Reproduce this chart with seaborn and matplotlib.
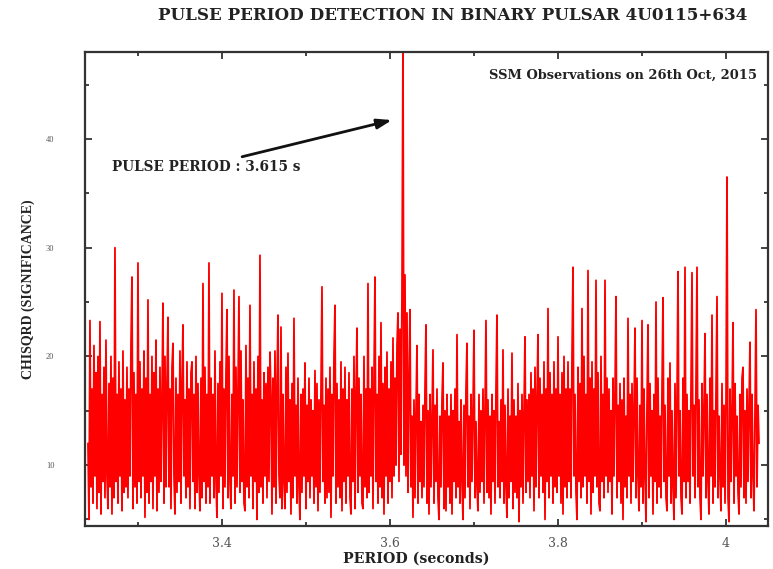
import numpy as np
import pandas as pd
import matplotlib
matplotlib.use("Agg")
import matplotlib.pyplot as plt
from matplotlib.ticker import MultipleLocator, FixedLocator
import seaborn as sns

# ---- data (trial period grid and chi-square values) ----
period_start = 3.2405
period_step = 0.0011905
chisq_values = [
    # 3.240 - 3.287
    12, 5, 23.3, 8, 17, 6.5, 21, 9, 18.5, 6, 20, 7.5, 23.2, 5.5, 16.5, 8.5, 19, 7, 21.5, 9,
    6, 17.5, 8, 20, 5.5, 18, 7, 30.0, 8.5, 16.5, 6.5, 19.5, 9, 17, 5.8, 20.5, 7.5, 16, 8, 19,
    # 3.288 - 3.335
    7, 17, 9, 21, 27.3, 6, 18.5, 8, 16.5, 6.5, 28.6, 8.5, 19.5, 7, 17, 9, 20.5, 5.2, 18, 7.5,
    25.2, 6.5, 16.5, 8.5, 20, 6, 18.5, 9, 21.5, 5.8, 17, 7.5, 19, 8.5, 16, 24.9, 6.5, 20, 8, 17.5,
    # 3.336 - 3.383
    23.6, 8, 17, 6, 19, 21.2, 9, 5.5, 18, 7.5, 16.5, 8.5, 20.5, 6.5, 17.5, 22.9, 9, 16, 7, 19.5,
    8, 17, 6, 18.5, 19.5, 8.5, 16.5, 6, 20, 7.5, 17.5, 9, 5.8, 18, 7, 26.7, 8.5, 19, 6.5, 16.5,
    # 3.383 - 3.430
    8, 28.6, 6.5, 18, 9, 16.5, 7, 20.5, 8.5, 5.2, 17.5, 7.5, 19.5, 9, 25.8, 6, 17, 8, 18.5, 24.3,
    7, 20, 8.5, 6, 16.5, 9, 26.1, 6.5, 19, 8, 17, 25.5, 7.5, 20.5, 8.5, 16, 6.5, 5.8, 21, 8,
    # 3.431 - 3.478
    18, 7, 24.7, 9, 16.5, 6, 19.5, 8.5, 17, 5, 20, 7.5, 29.3, 8, 16, 6.5, 18.5, 9, 17.5, 7,
    19, 8.5, 20.4, 16.5, 5.5, 18, 8, 20.5, 6.5, 17, 23.8, 9, 7, 22.7, 6, 16.5, 8.5, 6, 19, 7.5,
    # 3.479 - 3.526
    20.3, 8.5, 16, 5.5, 17.5, 7, 23.5, 9, 15.5, 6.5, 18, 8, 5, 16.5, 7.5, 17, 9, 19.4, 6, 15.5,
    8.5, 18, 7, 16, 9, 15, 6.5, 18.7, 8, 17.5, 5.8, 16, 7.5, 17, 26.4, 8.5, 15.5, 6.5, 18, 7,
    # 3.526 - 3.573
    17, 7.5, 19, 5.2, 16.5, 9, 20, 24.7, 6.5, 17.5, 8, 16, 7, 19.5, 5.8, 17, 8.5, 19.0, 6.5, 16,
    9, 18.5, 7, 5.5, 17, 8.5, 20, 6, 16.5, 22.6, 7.5, 18, 9, 16.5, 6.5, 6, 20, 8, 17, 7,
    # 3.574 - 3.621 (pulse period peak)
    26.7, 7.5, 17, 9, 19, 6, 18, 27.3, 8.5, 16.5, 6.5, 20, 8, 23.1, 7, 17.5, 5.5, 19, 9, 20.4,
    6.5, 17, 8.5, 19.5, 7, 21.7, 9, 18, 10, 21, 24, 8.5, 22.5, 11, 26, 49.0, 10, 27.5, 9, 24,
    # 3.621 - 3.668
    7.5, 17.5, 24.3, 8, 14.5, 5.2, 16, 7, 15, 21.0, 6.5, 16.5, 8.5, 14, 7, 15.5, 8, 17, 22.9, 6.5,
    15, 5.5, 16.5, 8, 14, 20.6, 6.5, 15.5, 8.5, 17, 7, 5, 14.5, 8, 16, 19.4, 6, 15, 5.8, 16.5,
    # 3.669 - 3.716
    8, 14.5, 6.5, 16.5, 5.5, 15, 8.5, 17, 7, 22.0, 8, 14, 6.5, 16, 8.5, 5, 15.5, 7, 17, 21.2,
    8, 14.5, 6, 16.5, 8.5, 15, 22.4, 7, 14, 8, 5.8, 16.5, 7.5, 15, 8.5, 17, 6.5, 14.5, 23.3, 7.5,
    # 3.717 - 3.764
    16, 7, 14.5, 5.5, 16.5, 8.5, 15, 6.5, 17, 23.8, 8, 14, 7, 16, 8.5, 20.6, 6.5, 15.5, 8, 5.2,
    17, 7, 14.5, 8.5, 20.3, 6, 16, 7.5, 14.5, 7, 17.5, 4.8, 15, 8, 16.5, 6.5, 15, 21.8, 7.5, 16,
    # 3.764 - 3.811
    8.5, 16.5, 7, 18.5, 9, 17, 5.8, 19, 8, 16, 22.0, 7, 18, 9, 16.5, 7.5, 19.5, 5, 17, 8.5,
    24.4, 7, 18.5, 9, 16.5, 6.5, 19.5, 8, 17, 7.5, 21.8, 9, 16.5, 6.5, 18.5, 5.5, 20, 8, 17, 7,
    # 3.812 - 3.859
    19.5, 8.5, 17, 7, 20, 28.2, 9, 16.5, 7.5, 5, 19, 8.5, 17.5, 7, 24.4, 8, 20, 9, 16.5, 6.5,
    27.9, 8.5, 18, 5.5, 19.5, 7.5, 17, 9, 27.0, 8, 18.5, 6.5, 5.8, 20, 8.5, 16.5, 7, 27.0, 9, 18,
    # 3.860 - 3.907
    7.5, 17, 8.5, 15, 5.5, 18, 9, 16.5, 25.5, 7, 15.5, 8.5, 17.5, 6.5, 16, 5, 18, 8, 14.5, 7,
    23.5, 9, 16.5, 6.5, 17.5, 8.5, 15, 22.6, 7, 18, 9, 5.8, 15.5, 8, 23.3, 6.5, 17, 9, 4.8, 15.5,
    # 3.907 - 3.954
    22.9, 7, 17.5, 9, 15, 5.5, 16.5, 8.5, 25.0, 6.5, 18, 8, 14.5, 7, 17, 25.4, 8.5, 15.5, 7, 5.8,
    18, 9, 19.4, 6.5, 15, 8, 5, 17.5, 7, 16, 27.8, 9, 15, 7, 5.5, 18, 8.5, 28.2, 7, 16.5,
    # 3.955 - 4.001
    8.5, 15, 6.5, 17.5, 27.7, 9, 15.5, 7, 18, 28.2, 8, 16, 7, 5, 17.5, 9, 15, 22.1, 7, 16.5,
    8.5, 5.5, 18, 9, 23.8, 6.5, 15, 8, 17, 25.5, 7, 14.5, 9, 5.8, 17.5, 8, 15.5, 6.5, 16, 36.5,
    # 4.002 - 4.040
    7, 4.8, 17, 8.5, 15, 23.1, 6.5, 17.5, 9, 14.5, 7.5, 5.5, 16.5, 8, 18, 19.0, 7, 15, 6.5, 17,
    8.5, 15.5, 21.3, 7, 16.5, 9, 5.8, 15, 24.3, 8, 15.5, 12,
]
x_ticks = [3.4, 3.6, 3.8, 4.0]
x_tick_labels = ["3.4", "3.6", "3.8", "4"]
y_ticks = [10, 20, 30, 40]
y_tick_labels = ["10", "20", "30", "40"]

periods = period_start + period_step * np.arange(len(chisq_values))
df = pd.DataFrame({"period": periods, "chisq": chisq_values})

sns.set_style("ticks")
plt.rcParams["font.family"] = ["Liberation Serif", "DejaVu Serif"]
wide = ["DejaVu Serif"]

fig = plt.figure(figsize=(7.73, 5.69), dpi=100)
ax = fig.add_axes([0.110, 0.0756, 0.8835, 0.833])

sns.lineplot(data=df, x="period", y="chisq", ax=ax, color="#ff0000",
             linewidth=1.3, estimator=None, sort=False)

ax.set_xlim(3.237, 4.050)
ax.set_ylim(4.4, 48.0)

ax.xaxis.set_major_locator(FixedLocator(x_ticks))
ax.set_xticklabels(x_tick_labels, family=wide)
ax.xaxis.set_minor_locator(MultipleLocator(0.1))
ax.yaxis.set_major_locator(FixedLocator(y_ticks))
ax.set_yticklabels(y_tick_labels)
ax.yaxis.set_minor_locator(MultipleLocator(5))

ax.tick_params(which="both", direction="in", top=True, right=True, color="#222222", width=1.2)
ax.tick_params(which="major", length=5)
ax.tick_params(which="minor", length=3)
ax.tick_params(axis="x", labelsize=9, pad=8, labelcolor="#555555")
ax.tick_params(axis="y", labelsize=6, pad=22, labelcolor="#555555")

for sp in ax.spines.values():
    sp.set_linewidth(1.6)
    sp.set_color("#333333")

ax.set_xlabel("PERIOD (seconds)", fontsize=10.2, fontweight="bold", color="#222222",
              labelpad=2, family=wide)
ax.xaxis.set_label_coords(0.485, -0.055)
ax.set_ylabel("CHISQRD (SIGNIFICANCE)", fontsize=10, fontweight="bold", color="#222222", labelpad=8)

fig.text(0.586, 0.973, "PULSE PERIOD DETECTION IN BINARY PULSAR 4U0115+634",
         ha="center", va="center", fontsize=12.1, fontweight="bold", color="#222222", family=wide)

ax.text(4.037, 45.9, "SSM Observations on 26th Oct, 2015", ha="right", va="center",
        fontsize=9.4, fontweight="bold", color="#222222", family=wide)

ax.annotate("PULSE PERIOD : 3.615 s", xy=(3.6024, 41.74), xytext=(3.269, 37.42),
            ha="left", va="center", fontsize=9.8, fontweight="bold", color="#222222", family=wide,
            arrowprops=dict(arrowstyle="-|>,head_length=0.9,head_width=0.3", color="#111111",
                            lw=2.0, shrinkA=0, shrinkB=0, relpos=(0.62, 1.0)))

fig.savefig("out.png", dpi=100)
